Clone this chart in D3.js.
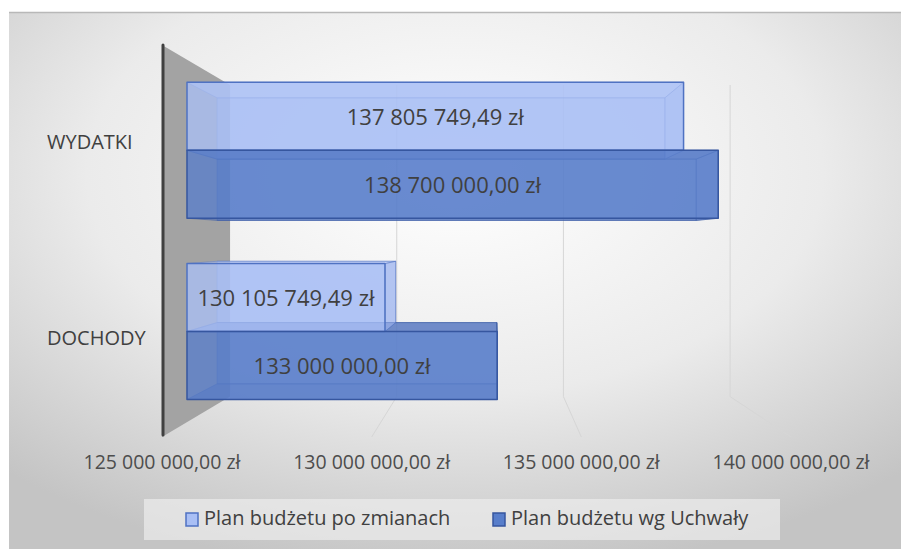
<!DOCTYPE html>
<html>
<head>
<meta charset="utf-8">
<script src="https://cdn.jsdelivr.net/npm/d3@7"></script>
<style>
  html, body { margin: 0; padding: 0; background: #ffffff; }
  svg { display: block; font-family: "Open Sans", "Liberation Sans", sans-serif; }
</style>
</head>
<body>
<svg id="chart" width="901" height="549"></svg>
<script>
// ---- data ----
const categories = ["WYDATKI", "DOCHODY"];
const seriesNames = ["Plan budżetu po zmianach", "Plan budżetu wg Uchwały"];
const planPoZmianach = [137805749.49, 130105749.49];
const planWgUchwaly = [138700000.00, 133000000.00];
const tickValues = [125000000, 130000000, 135000000, 140000000];
const seriesColors = [
  { front: "#a9bff5", top: "#c6d4fb", side: "#9fb5ec", stroke: "#4f72c2" },
  { front: "#587ecb", top: "#4b6cba", side: "#5274c2", stroke: "#36569f" }
];

// ---- layout ----
const W = 901, H = 549;
const svg = d3.select("#chart");
const loc = d3.formatLocale({ decimal: ",", thousands: "\u00a0", grouping: [3], currency: ["", ""] });
const fmt = v => loc.format(",.2f")(v) + " zł";

const VP = [494, 240];          // vanishing point of the one-point perspective
const sWallBack = 0.795;        // scale of the back plane
const sBarFront = 0.9247, sBarBack = 0.834;

const x = d3.scaleLinear().domain([tickValues[0], tickValues[tickValues.length - 1]]).range([162, 791]);
const yCat = d3.scaleBand().domain(categories).range([45, 437]).paddingInner(0.25).paddingOuter(0.125);
const ySer = d3.scaleBand().domain(seriesNames).range([0, yCat.bandwidth()]);

function proj(v, yf, s) {
  return [VP[0] + s * (x(v) - VP[0]), VP[1] + s * (yf - VP[1])];
}

// ---- background ----
const defs = svg.append("defs");
const rg = defs.append("radialGradient").attr("id", "bg")
  .attr("cx", "0.5").attr("cy", "0.3").attr("r", "0.75");
rg.append("stop").attr("offset", "0").attr("stop-color", "#ffffff");
rg.append("stop").attr("offset", "0.55").attr("stop-color", "#ebebeb");
rg.append("stop").attr("offset", "1").attr("stop-color", "#c4c4c4");

svg.append("rect").attr("x", 9).attr("y", 12).attr("width", W - 9).attr("height", H - 12)
  .attr("fill", "url(#bg)");
svg.append("line").attr("x1", 9).attr("x2", W).attr("y1", 12.5).attr("y2", 12.5)
  .attr("stroke", "#b8b8b8").attr("stroke-width", 1.5);

// ---- gridlines: back wall + floor ----
const yTop = yCat.range()[0], yBot = yCat.range()[1];
const grid = svg.append("g");
tickValues.slice(1).forEach(t => {
  const bt = proj(t, yTop, sWallBack), bb = proj(t, yBot, sWallBack), fb = proj(t, yBot, 1);
  grid.append("line").attr("x1", bt[0]).attr("y1", bt[1]).attr("x2", bb[0]).attr("y2", bb[1])
    .attr("stroke", "#d6d6d6").attr("stroke-width", 1);
  grid.append("line").attr("x1", bb[0]).attr("y1", bb[1]).attr("x2", fb[0]).attr("y2", fb[1])
    .attr("stroke", "#d6d6d6").attr("stroke-width", 1);
});

// ---- side wall ----
const v0 = tickValues[0];
const wall = [proj(v0, yTop, 1), proj(v0, yTop, sWallBack), proj(v0, yBot, sWallBack), proj(v0, yBot, 1)];
svg.append("polygon").attr("points", wall.map(p => p.join(",")).join(" "))
  .attr("fill", "#a3a3a3");

// ---- bars (3D boxes) ----
const bars = [];
categories.forEach((c, i) => {
  [planPoZmianach, planWgUchwaly].forEach((arr, k) => {
    const y0 = yCat(c) + ySer(seriesNames[k]);
    const y1 = y0 + ySer.bandwidth();
    bars.push({ cat: c, k, v: arr[i], y0, y1 });
  });
});

function faces(b) {
  const F = (v, y) => proj(v, y, sBarFront);
  const B = (v, y) => proj(v, y, sBarBack);
  return {
    back:   [B(v0, b.y0), B(b.v, b.y0), B(b.v, b.y1), B(v0, b.y1)],
    top:    [F(v0, b.y0), F(b.v, b.y0), B(b.v, b.y0), B(v0, b.y0)],
    bottom: [F(v0, b.y1), F(b.v, b.y1), B(b.v, b.y1), B(v0, b.y1)],
    right:  [F(b.v, b.y0), B(b.v, b.y0), B(b.v, b.y1), F(b.v, b.y1)],
    front:  [F(v0, b.y0), F(b.v, b.y0), F(b.v, b.y1), F(v0, b.y1)]
  };
}
const gBars = svg.append("g");
const pts = p => p.map(q => q.join(",")).join(" ");
["back", "bottom", "top", "right", "front"].forEach(face => {
  bars.forEach(b => {
    const f = faces(b)[face];
    const col = seriesColors[b.k];
    const fill = face === "top" || face === "bottom" ? col.top : face === "right" ? col.side : col.front;
    gBars.append("polygon").attr("points", pts(f))
      .attr("fill", fill)
      .attr("fill-opacity", face === "front" ? 0.78 : 0.55)
      .attr("stroke", col.stroke)
      .attr("stroke-opacity", face === "front" ? 1 : 0.45)
      .attr("stroke-width", face === "front" ? 1.5 : 1)
      .attr("stroke-linejoin", "round");
  });
});

// ---- axis line ----
const a0 = proj(v0, yTop, 1), a1 = proj(v0, yBot, 1);
svg.append("line").attr("x1", a0[0] + 1).attr("y1", a0[1]).attr("x2", a1[0] + 1).attr("y2", a1[1] - 2)
  .attr("stroke", "#404040").attr("stroke-width", 3).attr("stroke-linecap", "round");

// ---- data labels ----
bars.forEach(b => {
  const f = faces(b).front;
  const cx = (f[0][0] + f[1][0]) / 2, cy = (f[0][1] + f[3][1]) / 2;
  svg.append("text").attr("x", cx).attr("y", cy + 3).attr("text-anchor", "middle")
    .attr("dominant-baseline", "middle")
    .attr("font-size", 22).attr("fill", "#404040").text(fmt(b.v));
});

// ---- category labels ----
categories.forEach(c => {
  svg.append("text").attr("x", 47).attr("y", yCat(c) + yCat.bandwidth() / 2 + 1)
    .attr("text-anchor", "start").attr("dominant-baseline", "middle")
    .attr("font-size", 20).attr("fill", "#404040").text(c);
});

// ---- value axis tick labels ----
tickValues.forEach(t => {
  svg.append("text").attr("x", x(t)).attr("y", 464).attr("text-anchor", "middle")
    .attr("dominant-baseline", "middle")
    .attr("font-size", 19.5).attr("fill", "#4d4d4d").text(fmt(t));
});

// ---- legend ----
const lg = svg.append("g");
lg.append("rect").attr("x", 144).attr("y", 499).attr("width", 636).attr("height", 41)
  .attr("fill", "#ececec").attr("fill-opacity", 0.7);
const legendX = [186, 493];
seriesNames.forEach((s, k) => {
  lg.append("rect").attr("x", legendX[k]).attr("y", 513).attr("width", 12).attr("height", 13)
    .attr("fill", seriesColors[k].front).attr("stroke", seriesColors[k].stroke).attr("stroke-width", 1.5);
  lg.append("text").attr("x", legendX[k] + 18).attr("y", 520).attr("dominant-baseline", "middle")
    .attr("font-size", 20).attr("fill", "#404040").text(s);
});
</script>
</body>
</html>
